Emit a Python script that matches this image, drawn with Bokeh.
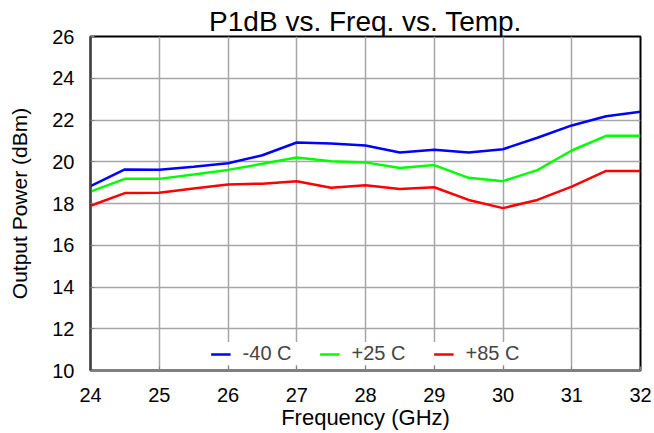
from bokeh.plotting import figure
from bokeh.models import Range1d, FixedTicker, Legend, LegendItem
from bokeh.embed import file_html
from bokeh.resources import INLINE

freq = [24, 24.5, 25, 25.5, 26, 26.5, 27, 27.5, 28, 28.5, 29, 29.5, 30, 30.5, 31, 31.5, 32]
p_m40 = [18.83, 19.63, 19.62, 19.76, 19.93, 20.31, 20.92, 20.88, 20.78, 20.44, 20.58, 20.44, 20.6, 21.15, 21.74, 22.18, 22.4]
p_p25 = [18.57, 19.18, 19.18, 19.39, 19.61, 19.9, 20.2, 20.02, 19.97, 19.7, 19.84, 19.23, 19.07, 19.6, 20.54, 21.24, 21.24]
p_p85 = [17.89, 18.5, 18.52, 18.72, 18.91, 18.95, 19.07, 18.75, 18.87, 18.7, 18.78, 18.17, 17.78, 18.17, 18.81, 19.56, 19.56]
x_ticks = [24, 25, 26, 27, 28, 29, 30, 31, 32]
y_ticks = [10, 12, 14, 16, 18, 20, 22, 24, 26]
series_names = ["-40 C", "+25 C", "+85 C"]
series_colors = ["#0000ff", "#00ff00", "#ff0000"]

FONT = "Liberation Sans"

p = figure(width=654, height=433, output_backend="svg", toolbar_location=None,
           x_range=Range1d(24, 32), y_range=Range1d(10, 26),
           min_border_left=90, min_border_right=14, min_border_top=36, min_border_bottom=63,
           title="P1dB vs. Freq. vs. Temp.")

p.title.align = "center"
p.title.text_font = FONT
p.title.text_font_size = "28px"
p.title.text_font_style = "normal"
p.title.text_color = "#000000"
p.title.standoff = 0

p.outline_line_color = "#000000"
p.outline_line_width = 2

p.xaxis.ticker = FixedTicker(ticks=x_ticks)
p.yaxis.ticker = FixedTicker(ticks=y_ticks)
p.xaxis.axis_label = "Frequency (GHz)"
p.yaxis.axis_label = "Output Power (dBm)"
for ax in (p.xaxis, p.yaxis):
    ax.axis_label_text_font = FONT
    ax.axis_label_text_font_style = "normal"
    ax.axis_label_text_color = "#000000"
    ax.major_label_text_font = FONT
    ax.major_label_text_font_size = "20px"
    ax.major_label_text_color = "#000000"
    ax.minor_tick_line_color = None
    ax.major_tick_out = 0
    ax.major_tick_in = 4
    ax.major_tick_line_color = "#808080"
p.xaxis.axis_label_text_font_size = "22px"
p.yaxis.axis_label_text_font_size = "21px"
p.xaxis.axis_line_color = "#808080"
p.xaxis.axis_line_width = 2
p.yaxis.axis_line_color = "#404040"
p.yaxis.axis_line_width = 2
p.xaxis.major_label_standoff = 17
p.yaxis.major_label_standoff = 16
p.xaxis.axis_label_standoff = 0
p.yaxis.axis_label_standoff = 18

p.xgrid.grid_line_color = "#a6a6a6"
p.ygrid.grid_line_color = "#a6a6a6"
p.xgrid.grid_line_width = 1.5
p.ygrid.grid_line_width = 1.5

items = []
for name, vals, col in zip(series_names, [p_m40, p_p25, p_p85], series_colors):
    r = p.line(freq, vals, line_color=col, line_width=2.5)
    items.append(LegendItem(label=name, renderers=[r]))

legend = Legend(items=items, location="bottom_center", orientation="horizontal",
                label_text_font=FONT, label_text_font_size="20px",
                border_line_color=None, background_fill_color="#ffffff",
                background_fill_alpha=1.0, glyph_width=20, spacing=28,
                label_standoff=12, margin=5, padding=6)
p.add_layout(legend)

open("out.html", "w").write(file_html(p, INLINE))
